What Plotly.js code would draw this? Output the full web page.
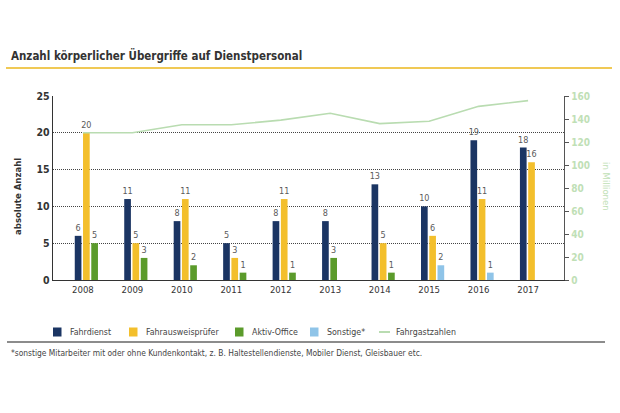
<!DOCTYPE html>
<html>
<head>
<meta charset="utf-8">
<script src="https://cdn.plot.ly/plotly-3.0.1.min.js"></script>
<style>html,body{margin:0;padding:0;background:#fff;}#chart{width:620px;height:413px;}</style>
</head>
<body>
<div id="chart"></div>
<script>
// ---- data ----
const years = [2008, 2009, 2010, 2011, 2012, 2013, 2014, 2015, 2016, 2017];
const yearLabels = ["2008","2009","2010","2011","2012","2013","2014","2015","2016","2017"];
const fahrdienst = [6, 11, 8, 5, 8, 8, 13, 10, 19, 18];
const fahrausweispruefer = [20, 5, 11, 3, 11, 0, 5, 6, 11, 16];
const aktivOffice = [5, 3, 2, 1, 1, 3, 1, 0, 0, 0];
const sonstige = [0, 0, 0, 0, 0, 0, 0, 2, 1, 0];
const fahrgastzahlen = [128, 128, 135, 135, 139, 145, 136, 138, 151, 156];
const seriesNames = ["Fahrdienst", "Fahrausweisprüfer", "Aktiv-Office", "Sonstige*", "Fahrgastzahlen"];
const titleText = "Anzahl körperlicher Übergriffe auf Dienstpersonal";
const yTitle = "absolute Anzahl";
const y2Title = "in Millionen";
const footnote = "*sonstige Mitarbeiter mit oder ohne Kundenkontakt, z. B. Haltestellendienste, Mobiler Dienst, Gleisbauer etc.";

// ---- style ----
const FONT = "'Liberation Sans Narrow', 'DejaVu Sans Condensed', 'Arial Narrow', sans-serif";
const colors = ["#1b3563", "#f3bf2c", "#5b9b2b", "#8fc4e8", "#b9dcb1"];
const W = 620, H = 413;
const M = {l: 53, r: 56, t: 96, b: 133};
const PW = W - M.l - M.r, PH = H - M.t - M.b;
const px = x => (x - M.l) / PW;
const py = y => (H - M.b - y) / PH;

const barSeries = [fahrdienst, fahrausweispruefer, aktivOffice, sonstige];
const base = -0.165, pitch = 0.167, bw = 0.135;
const offsets = barSeries.map(() => []);
years.forEach((yr, i) => {
  let slot = 0;
  barSeries.forEach((s, k) => {
    if (s[i] > 0) { offsets[k][i] = base + slot * pitch; slot++; }
    else offsets[k][i] = 0;
  });
});

const traces = barSeries.map((s, k) => ({
  type: 'bar',
  name: seriesNames[k],
  x: years,
  y: s.map(v => v > 0 ? v : null),
  width: bw,
  offset: offsets[k],
  marker: {color: colors[k]},
  text: s.map(v => v > 0 ? String(v) : ''),
  textposition: 'outside',
  constraintext: 'none',
  cliponaxis: false,
  textfont: {family: FONT, size: 9, color: '#5a5a5a'},
  hoverinfo: 'x+y+name',
  showlegend: false
}));
traces.push({
  type: 'scatter', mode: 'lines', name: seriesNames[4],
  x: years, y: fahrgastzahlen, yaxis: 'y2',
  line: {color: colors[4], width: 1.6},
  showlegend: false
});

const shapes = [
  {type: 'line', xref: 'paper', yref: 'paper', x0: px(6), x1: px(612), y0: py(68), y1: py(68), line: {color: '#f0c955', width: 2}},
  {type: 'line', xref: 'paper', yref: 'paper', x0: px(7), x1: px(605), y0: py(342), y1: py(342), line: {color: '#666', width: 1.5}}
];
const annotations = [
  {xref: 'paper', yref: 'paper', x: px(17), y: py(197), text: yTitle, textangle: -90, showarrow: false,
   font: {family: FONT, size: 9.5, color: '#333', weight: 'bold'}, xanchor: 'center', yanchor: 'middle'},
  {xref: 'paper', yref: 'paper', x: px(607), y: py(186), text: y2Title, textangle: 90, showarrow: false,
   font: {family: FONT, size: 9.5, color: '#bfe0b6'}, xanchor: 'center', yanchor: 'middle'},
  {xref: 'paper', yref: 'paper', x: px(9), y: py(353), text: footnote, showarrow: false,
   font: {family: FONT, size: 8.4, color: '#444'}, xanchor: 'left', yanchor: 'middle'}
];
const legX = [53, 129, 235, 310, 379];
const legY = 332;
seriesNames.forEach((nm, k) => {
  if (k < 4) {
    shapes.push({type: 'rect', xref: 'paper', yref: 'paper', x0: px(legX[k]), x1: px(legX[k] + 8.5),
      y0: py(legY - 4.5), y1: py(legY + 4.5), fillcolor: colors[k], line: {width: 0}});
  } else {
    shapes.push({type: 'line', xref: 'paper', yref: 'paper', x0: px(legX[k]), x1: px(legX[k] + 11),
      y0: py(legY), y1: py(legY), line: {color: colors[k], width: 2}});
  }
  annotations.push({xref: 'paper', yref: 'paper', x: px(legX[k] + 15), y: py(legY), text: nm,
    showarrow: false, xanchor: 'left', yanchor: 'middle', font: {family: FONT, size: 8.8, color: '#444'}});
});

const layout = {
  width: W, height: H,
  margin: M,
  paper_bgcolor: '#fff', plot_bgcolor: '#fff',
  font: {family: FONT, color: '#333'},
  title: {text: titleText, xref: 'container', yref: 'container', x: 11 / W, y: 1 - 56 / H,
    xanchor: 'left', yanchor: 'middle', font: {family: FONT, size: 11.5, color: '#333', weight: 'bold'}},
  barmode: 'overlay',
  showlegend: false,
  xaxis: {range: [2007.395, 2017.726], tickvals: years, ticktext: yearLabels, showgrid: false, zeroline: false,
    showline: true, linecolor: '#333', linewidth: 1.3, ticks: '', tickfont: {family: FONT, size: 9.5, color: '#333'}},
  yaxis: {range: [0, 25], dtick: 5, showgrid: true, gridcolor: '#444', griddash: '1px,1px', gridwidth: 1,
    zeroline: false, showline: true, linecolor: '#333', linewidth: 1.3, ticks: '',
    tickfont: {family: FONT, size: 10.5, color: '#333', weight: 'bold'}},
  yaxis2: {range: [0, 160], dtick: 20, overlaying: 'y', side: 'right', showgrid: false, zeroline: false,
    showline: true, linecolor: '#555', linewidth: 1.3, ticks: 'outside', ticklen: 4, tickcolor: '#555',
    tickfont: {family: FONT, size: 10, color: '#bfe0b6', weight: 'bold'}},
  shapes: shapes,
  annotations: annotations
};

Plotly.newPlot('chart', traces, layout, {displayModeBar: false, staticPlot: true});
</script>
</body>
</html>
